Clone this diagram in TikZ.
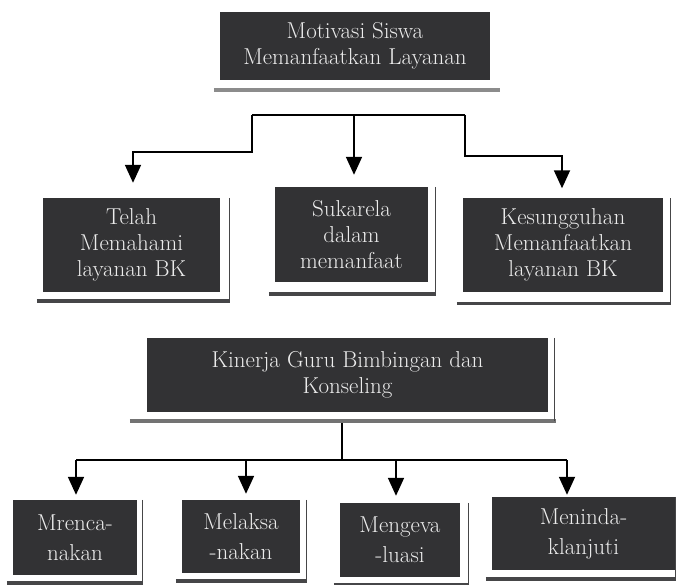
\documentclass[tikz,border=0pt]{standalone}
\usetikzlibrary{arrows.meta,calc}
\definecolor{boxgray}{RGB}{50,50,52}
\definecolor{boxtext}{RGB}{236,236,236}
\definecolor{bargray}{RGB}{70,70,72}
\newcommand{\frameit}[3]{%
  \draw[bar] ($(#1.south west)+(-6,#2)$) -- ($(#1.south east)+(#3+1,#2)$);
  \draw[edge] ($(#1.north east)+(#3,0)$) -- ($(#1.south east)+(#3,#2)$);}
\begin{document}
\begin{tikzpicture}[x=1pt,y=-1pt,
  box/.style={draw=none, fill=boxgray, text=boxtext, align=center, inner sep=0pt,
    font=\fontsize{23}{26}\selectfont},
  smallbox/.style={box, font=\fontsize{23}{30}\selectfont},
  link/.style={line width=1.8pt, draw=black},
  arr/.style={link, -{Triangle[width=16pt,length=18pt]}},
  bar/.style={line width=3.5pt, draw=bargray},
  edge/.style={line width=1pt, draw=bargray}]
\useasboundingbox (0,0) rectangle (682,585);
\fill[white] (0,0) rectangle (682,585);

% upper tree
\node[box, minimum width=270pt, minimum height=68pt] (top) at (355,46) {Motivasi Siswa\\Memanfaatkan Layanan};
\node[box, minimum width=177pt, minimum height=94pt] (telah) at (131.5,245) {Telah\\Memahami\\layanan BK};
\node[box, minimum width=153pt, minimum height=95pt] (suka) at (351.5,234.5) {Sukarela\\dalam\\memanfaat};
\node[box, minimum width=200pt, minimum height=93pt] (kesung) at (563,245) {Kesungguhan\\Memanfaatkan\\layanan BK};

\draw[bar, draw=black!45] ($(top.south west)+(-6,10)$) -- ($(top.south east)+(10,10)$);
\frameit{telah}{9}{9}
\frameit{suka}{12}{7}
\frameit{kesung}{12}{7}

\coordinate (j1) at (252,115);
\coordinate (j2) at (354,115);
\coordinate (j3) at (465,115);
\coordinate (c1) at (133,152);
\coordinate (c3) at (562,156);
\draw[link] (j1) -- (j3);
\draw[arr, shorten >=15pt] (j1) |- (c1) -- (c1 |- telah.north);
\draw[arr, shorten >=12pt] (j2) -- (j2 |- suka.north);
\draw[arr, shorten >=10pt] (j3) |- (c3) -- (c3 |- kesung.north);

% lower tree
\node[box, minimum width=401pt, minimum height=74pt] (kinerja) at (347.5,375) {Kinerja Guru Bimbingan dan\\Konseling};
\node[smallbox, minimum width=124pt, minimum height=75pt] (m1) at (75,537.5) {Mrenca-\\nakan};
\node[smallbox, minimum width=118pt, minimum height=73pt] (m2) at (241,536.5) {Melaksa\\-nakan};
\node[smallbox, minimum width=120pt, minimum height=74pt] (m3) at (400,540) {Mengeva\\-luasi};
\node[smallbox, minimum width=183pt, minimum height=73pt] (m4) at (583.5,533.5) {Meninda-\\klanjuti};

\draw[bar, draw=black!55] ($(kinerja.south west)+(-17,9)$) -- ($(kinerja.south east)+(8,9)$);
\draw[edge] ($(kinerja.north east)+(6,0)$) -- ($(kinerja.south east)+(6,9)$);
\frameit{m1}{8}{5}
\frameit{m2}{8}{6}
\frameit{m3}{8}{8}
\frameit{m4}{9}{0}

\coordinate (k0) at ($(kinerja.south)+(-5.5,11)$);
\coordinate (kj) at (342,460);
\coordinate (h1) at (76,460);
\coordinate (h2) at (246,460);
\coordinate (h3) at (396,460);
\coordinate (h4) at (567,460);
\draw[link] (k0) -- (kj);
\draw[link] (h1) -- (h4);
\draw[arr, shorten >=5pt] (h1) -- (h1 |- m1.north);
\draw[arr, shorten >=6pt] (h2) -- (h2 |- m2.north);
\draw[arr, shorten >=7pt] (h3) -- (h3 |- m3.north);
\draw[arr, shorten >=2pt] (h4) -- (h4 |- m4.north);
\end{tikzpicture}
\end{document}
